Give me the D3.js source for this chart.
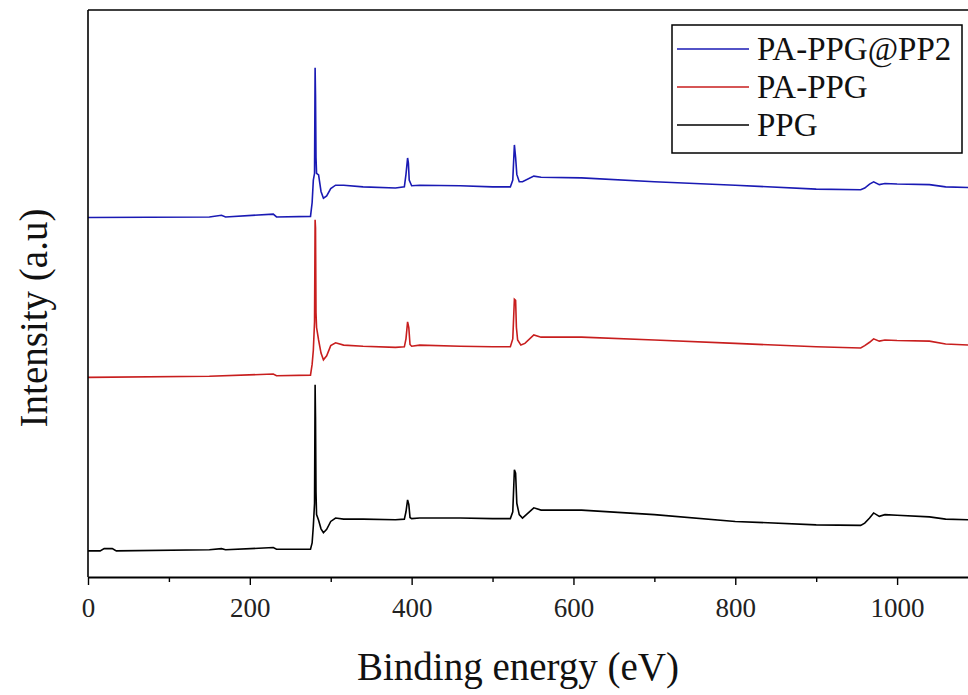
<!DOCTYPE html>
<html>
<head>
<meta charset="utf-8">
<script src="https://cdn.jsdelivr.net/npm/d3@7/dist/d3.min.js"></script>
<style>
  html, body { margin: 0; padding: 0; background: #fff; }
  svg { display: block; }
</style>
</head>
<body>
<svg id="chart" width="968" height="695"></svg>
<script>
// ---- Data (binding energy in eV, intensity in a.u.) ----
const seriesNames = ["PA-PPG@PP2", "PA-PPG", "PPG"];
const seriesColors = ["#1a1ab4", "#c81e1e", "#000000"];

const energyBlue = [0, 150, 165, 170, 229, 233, 275, 277, 278.5, 280, 280.7, 281.2, 281.8, 282.5, 285, 288, 291, 295, 300, 306, 316, 340, 380, 391, 393, 395, 396, 397, 400, 410, 460, 500, 522, 525, 527, 528.5, 530, 533, 537, 551, 560, 610, 700, 800, 900, 955, 960, 966, 971, 978, 985, 1000, 1040, 1060, 1090, 1100];
const intensityBlue = [634, 635, 638, 635, 640, 635, 636, 660, 700, 712, 898, 850, 740, 712, 709, 680, 668, 672, 685, 691, 691, 688, 686, 688, 710, 739, 730, 700, 690, 691, 690, 688, 688, 700, 762, 740, 710, 697, 697, 707, 705, 704, 697, 691, 684, 683, 686, 693, 697, 692, 694, 693, 692, 688, 687, 687];

const energyRed = [0, 150, 229, 233, 275, 277, 278.5, 280, 280.7, 281.2, 281.8, 282.5, 285, 288, 291, 295, 300, 306, 316, 340, 380, 391, 393, 395, 396.5, 398, 400, 410, 460, 500, 522, 525, 527, 528.5, 529.5, 531, 535, 540, 551, 560, 610, 700, 800, 900, 955, 960, 966, 971, 978, 985, 1000, 1040, 1060, 1090, 1100];
const intensityRed = [352, 354, 358, 355, 356, 375, 400, 450, 630, 616, 466, 440, 418, 395, 383, 390, 408, 413, 409, 407, 405, 406, 420, 450, 440, 410, 407, 409, 407, 406, 406, 420, 490, 488, 440, 418, 409, 412, 427, 423, 423, 418, 412, 406, 404, 408, 414, 420, 416, 418, 417, 416, 411, 409, 409];

const energyBlack = [0, 15, 20, 30, 35, 150, 165, 170, 229, 233, 275, 277, 278.5, 280, 280.7, 281.2, 281.8, 282.5, 285, 288, 291, 295, 300, 306, 316, 340, 380, 391, 393, 395, 396.5, 398, 400, 410, 460, 500, 522, 525, 527, 528.5, 530, 533, 537, 551, 560, 610, 700, 800, 900, 955, 960, 966, 971, 978, 985, 1000, 1040, 1060, 1090, 1100];
const intensityBlack = [46, 46, 50, 50, 46, 48, 50, 48, 52, 49, 49, 60, 90, 130, 339, 282, 150, 110, 100, 85, 78, 84, 98, 104, 102, 102, 101, 102, 115, 136, 128, 105, 103, 104, 104, 103, 103, 115, 189, 183, 130, 110, 104, 122, 118, 118, 110, 98, 92, 91, 95, 104, 113, 107, 110, 109, 106, 102, 101, 101];

const xTickValues = [0, 200, 400, 600, 800, 1000];
const xMinorTickValues = [100, 300, 500, 700, 900, 1100];
const xTitle = "Binding energy (eV)";
const yTitle = "Intensity (a.u)";

// ---- Layout ----
const svg = d3.select("#chart");
const mLeft = 88, mRight = 978, mTop = 10, mBottom = 577;

const x = d3.scaleLinear().domain([0, 1100]).range([mLeft, mRight]);
const y = d3.scaleLinear().domain([0, 1000]).range([mBottom, mTop]);

const font = "'Liberation Serif', 'Times New Roman', serif";

svg.append("defs").append("clipPath").attr("id", "clip")
  .append("rect").attr("x", mLeft).attr("y", mTop).attr("width", mRight - mLeft).attr("height", mBottom - mTop);

// Series
const series = [
  { name: seriesNames[0], color: seriesColors[0], e: energyBlue, v: intensityBlue },
  { name: seriesNames[1], color: seriesColors[1], e: energyRed, v: intensityRed },
  { name: seriesNames[2], color: seriesColors[2], e: energyBlack, v: intensityBlack }
];

const line = d3.line().x(d => x(d[0])).y(d => y(d[1]));
const gLines = svg.append("g").attr("clip-path", "url(#clip)");
series.forEach(s => {
  gLines.append("path")
    .datum(s.e.map((e, i) => [e, s.v[i]]))
    .attr("fill", "none")
    .attr("stroke", s.color)
    .attr("stroke-width", 1.6)
    .attr("stroke-linejoin", "miter")
    .attr("d", line);
});

// Frame: top and left lines
svg.append("line").attr("x1", mLeft).attr("x2", mRight).attr("y1", mTop).attr("y2", mTop)
  .attr("stroke", "#000").attr("stroke-width", 1.6);
svg.append("line").attr("x1", mLeft).attr("x2", mLeft).attr("y1", mTop).attr("y2", mBottom)
  .attr("stroke", "#000").attr("stroke-width", 1.6);

// Minor ticks
svg.append("g").attr("transform", `translate(0,${mBottom})`)
  .call(d3.axisBottom(x).tickValues(xMinorTickValues).tickSize(5).tickFormat(""))
  .call(g => g.select(".domain").remove())
  .call(g => g.selectAll("line").attr("stroke-width", 1.4));

// Major axis
const xAxis = svg.append("g").attr("transform", `translate(0,${mBottom})`)
  .call(d3.axisBottom(x).tickValues(xTickValues).tickSize(8).tickSizeOuter(0).tickFormat(d3.format("d")));
xAxis.select(".domain").attr("stroke-width", 1.8);
xAxis.selectAll("line").attr("stroke-width", 1.4);
xAxis.selectAll("text")
  .attr("y", 40).attr("dy", 0)
  .attr("font-family", font).attr("font-size", 27).attr("fill", "#222");

// Axis titles
svg.append("text")
  .attr("x", 518).attr("y", 680)
  .attr("text-anchor", "middle")
  .attr("font-family", font).attr("font-size", 39).attr("fill", "#111")
  .text(xTitle);

svg.append("text")
  .attr("transform", "translate(47,318) rotate(-90)")
  .attr("text-anchor", "middle")
  .attr("font-family", font).attr("font-size", 39).attr("fill", "#111")
  .text(yTitle);

// Legend
const lg = svg.append("g");
lg.append("rect").attr("x", 672).attr("y", 25).attr("width", 290).attr("height", 128)
  .attr("fill", "#fff").attr("stroke", "#000").attr("stroke-width", 1.5);
const legendY = [49, 87, 125];
series.forEach((s, i) => {
  lg.append("line").attr("x1", 677).attr("x2", 749).attr("y1", legendY[i]).attr("y2", legendY[i])
    .attr("stroke", s.color).attr("stroke-width", 1.6);
  lg.append("text").attr("x", 757).attr("y", legendY[i] + 11)
    .attr("font-family", font).attr("font-size", 33).attr("fill", "#111")
    .text(s.name);
});
</script>
</body>
</html>
